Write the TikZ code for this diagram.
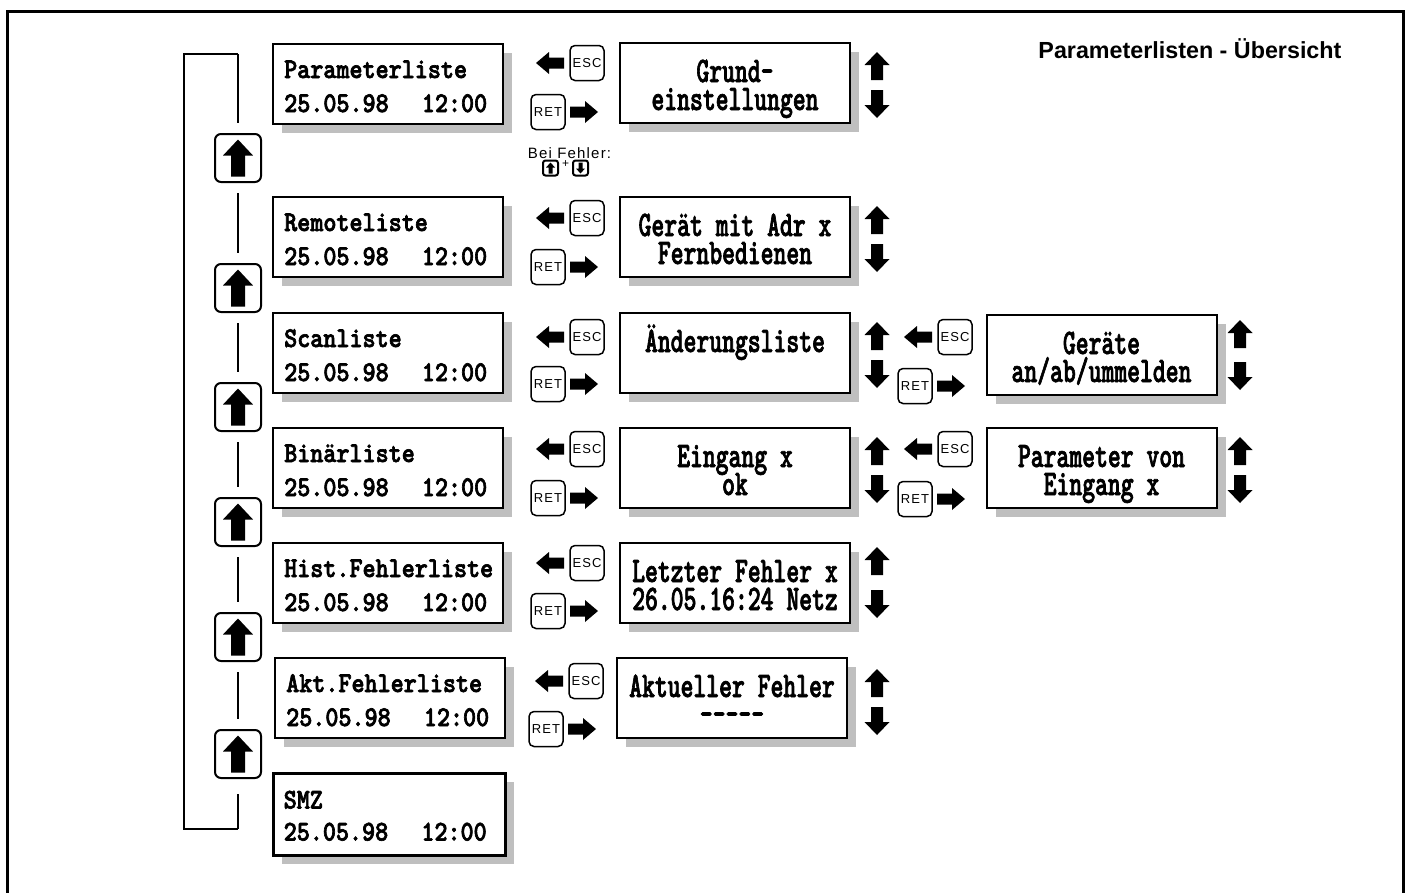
\documentclass[tikz,border=0pt]{standalone}
\usepackage{fontspec}
\setmainfont{Liberation Sans}
\newfontfamily\lcdA{lmmonolt10-bold}[Extension=.otf, FakeStretch=0.87, FakeBold=2.3]
\newfontfamily\lcdB{lmmonolt10-bold}[Extension=.otf, FakeStretch=0.68, FakeBold=1.8]
\newfontfamily\keyf{Liberation Sans}[LetterSpace=8]
\usetikzlibrary{shadows}
\tikzset{
 lcd/.style={draw, line width=2pt, fill=white, minimum width=230pt, minimum height=80pt, inner sep=0pt,
   drop shadow={shadow xshift=9pt, shadow yshift=-9pt, fill=black!25, opacity=1}},
 txtA/.style={inner sep=0pt, font=\lcdA\fontsize{28.6}{32}\selectfont},
 txtB/.style={inner sep=0pt, font=\lcdB\fontsize{36}{38}\selectfont},
 keyb/.style={draw, line width=1.5pt, rounded corners=5pt, minimum width=34pt, minimum height=35pt, inner sep=0pt,
   font=\keyf\fontsize{13}{15}\selectfont},
 bigkey/.style={draw, line width=2pt, rounded corners=6pt, minimum width=46pt, minimum height=48pt, inner sep=0pt},
 smallkey/.style={draw, line width=2pt, rounded corners=2.5pt, minimum size=15pt, inner sep=0pt},
 wire/.style={line width=2pt},
 pics/barrowup/.style n args={4}{code={\fill (0,-#2/2) -- (#1/2,-#2/2+#3) -- (#4/2,-#2/2+#3) -- (#4/2,#2/2) -- (-#4/2,#2/2) -- (-#4/2,-#2/2+#3) -- (-#1/2,-#2/2+#3) -- cycle;}},
 pics/barrowdown/.style n args={4}{code={\fill (0,#2/2) -- (#1/2,#2/2-#3) -- (#4/2,#2/2-#3) -- (#4/2,-#2/2) -- (-#4/2,-#2/2) -- (-#4/2,#2/2-#3) -- (-#1/2,#2/2-#3) -- cycle;}},
 pics/barrowleft/.style n args={4}{code={\fill (-#2/2,0) -- (-#2/2+#3,#1/2) -- (-#2/2+#3,#4/2) -- (#2/2,#4/2) -- (#2/2,-#4/2) -- (-#2/2+#3,-#4/2) -- (-#2/2+#3,-#1/2) -- cycle;}},
 pics/barrowright/.style n args={4}{code={\fill (#2/2,0) -- (#2/2-#3,#1/2) -- (#2/2-#3,#4/2) -- (-#2/2,#4/2) -- (-#2/2,-#4/2) -- (#2/2-#3,-#4/2) -- (#2/2-#3,-#1/2) -- cycle;}},
 pics/sideup/.style={code={\pic {barrowup={25}{28}{13}{12}};}},
 pics/sidedown/.style={code={\pic {barrowdown={25}{28}{13}{12}};}},
 pics/escarr/.style={code={\pic {barrowleft={22}{28}{13}{11}};}},
 pics/retarr/.style={code={\pic {barrowright={22}{28}{13}{11}};}},
}
% column-1 box: name, cx, cy, line1
\newcommand\listbox[4]{%
 \node[lcd] (#1) at (#2,#3) {};
 \node[txtA, anchor=base west] (#1a) at ([shift={(12,35)}]#1.north west) {#4};
 \node[txtA, anchor=base west] (#1b) at ([shift={(12,69)}]#1.north west) {\makebox[203pt][l]{25.05.98\hfill 12:00}};
}
% centered box: name, cx, cy, line1, line2
\newcommand\menubox[5]{%
 \node[lcd] (#1) at (#2,#3) {};
 \node[txtB, anchor=base] (#1a) at ([yshift=-40pt]#1.north) {#4};
 \node[txtB, anchor=base] (#1b) at ([yshift=-68pt]#1.north) {#5};
}
% keys: name, esc x, esc y, ret x, ret y, arrow-left x, arrow-right x
\newcommand\keypair[7]{%
 \node[keyb] (#1e) at (#2,#3) {ESC};
 \node[keyb] (#1r) at (#4,#5) {RET};
 \pic at (#6,#3) {escarr};
 \pic at (#7,#5) {retarr};
}
\begin{document}
\begin{tikzpicture}[x=1pt,y=-1pt]
\useasboundingbox (0,0) rectangle (1411,892);
% frame
\draw[line width=3pt] (7,900) -- (7,11) -- (1403,11) -- (1403,900);
\node[anchor=base east, font=\bfseries\fontsize{23.3}{26}\selectfont] (title) at (1345,58) {Parameterlisten - Übersicht};

% column 1
\listbox{b1}{388}{84}{Parameterliste}
\listbox{b2}{388}{237}{Remoteliste}
\listbox{b3}{388}{353}{Scanliste}
\listbox{b4}{388}{468}{Binärliste}
\listbox{b5}{388}{583}{Hist.Fehlerliste}
\listbox{b6}{390}{698}{Akt.Fehlerliste}
\node[lcd, line width=3pt, minimum width=232pt, minimum height=82pt] (b7) at (389,814) {};
\node[txtA, anchor=base west] (b7a) at ([shift={(12,37)}]b7.north west) {SMZ};
\node[txtA, anchor=base west] (b7b) at ([shift={(12,69)}]b7.north west) {\makebox[203pt][l]{25.05.98\hfill 12:00}};

% left keys and bracket
\foreach \n/\y in {1/158,2/288,3/407,4/522,5/637,6/754}{
 \node[bigkey] (k\n) at (238,\y) {};
 \pic at (238,\y) {barrowup={30}{37}{16}{14}};
}
\coordinate (brT) at (238,54);
\coordinate (brTL) at (184,54);
\coordinate (brBL) at (184,829);
\coordinate (brB) at (238,829);
\draw[wire] (brT) -- (brTL) -- (brBL) -- (brB);
\draw[wire, shorten >=10pt] (brT) -- (k1);
\foreach \a/\b in {1/2,2/3,3/4,4/5,5/6}{
 \draw[wire, shorten <=10pt, shorten >=10pt] (k\a) -- (k\b);
}
\draw[wire, shorten <=15pt] (k6) -- (brB);

% column 2 keys
\keypair{r1}{587}{63}{548}{112}{550}{584}
\keypair{r2}{587}{218}{548}{267}{550}{584}
\keypair{r3}{587}{337}{548}{384}{550}{584}
\keypair{r4}{587}{449}{548}{498}{550}{584}
\keypair{r5}{587}{563}{548}{611}{550}{584}
\keypair{r6}{586}{681}{546}{729}{549}{582}

% Bei Fehler
\node[anchor=base, inner sep=0pt, font=\keyf\fontsize{15}{17}\selectfont] (bf) at (569.5,158) {Bei Fehler:};
\node[smallkey] (sku) at (550.5,168) {};
\node[smallkey] (skd) at (580.5,168) {};
\pic at (550.5,168) {barrowup={9}{11}{5}{4}};
\pic at (580.5,168) {barrowdown={9}{11}{5}{4}};
\node[inner sep=0pt, font=\fontsize{12}{14}\selectfont] (plus) at (565.5,164) {+};

% column 2 boxes
\menubox{m1}{735}{83}{Grund-}{einstellungen}
\menubox{m2}{735}{237}{Gerät mit Adr x}{Fernbedienen}
\menubox{m3}{735}{353}{Änderungsliste}{}
\menubox{m4}{735}{468}{Eingang x}{ok}
\menubox{m5}{735}{583}{Letzter Fehler x}{26.05.16:24 Netz}
\menubox{m6}{732}{698}{Aktueller Fehler}{-----}

\foreach \u/\d in {66/104,220/258,336/374,451/489,561/604,683/721}{
 \pic at (877,\u) {sideup};
 \pic at (877,\d) {sidedown};
}

% column 3
\keypair{s3}{955}{337}{915}{386}{918}{951}
\keypair{s4}{955}{449}{915}{499}{918}{951}
\menubox{t3}{1101.5}{355}{Geräte}{an/ab/ummelden}
\menubox{t4}{1101.5}{468}{Parameter von}{Eingang x}
\foreach \u/\d in {334/376,451/489}{
 \pic at (1240,\u) {sideup};
 \pic at (1240,\d) {sidedown};
}
\end{tikzpicture}
\end{document}
